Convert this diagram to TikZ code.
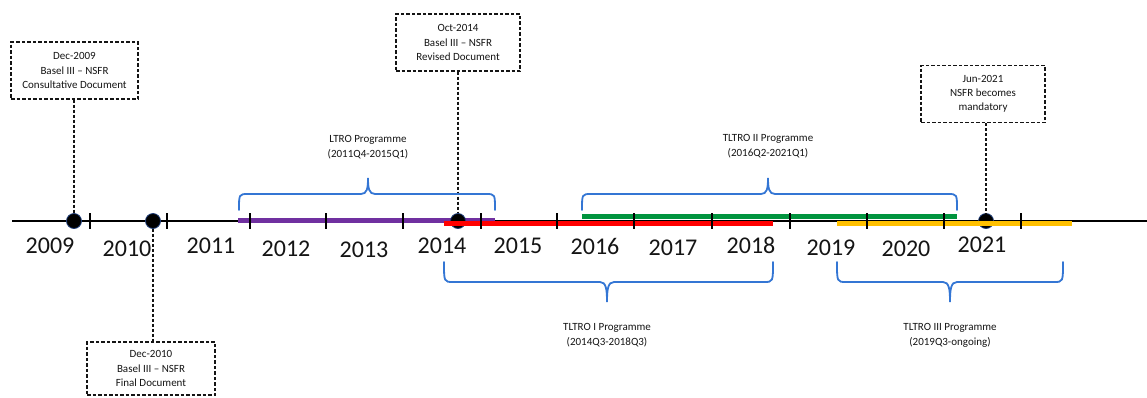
\documentclass[tikz,border=0pt]{standalone}
\usepackage{fontspec}
\setmainfont{Carlito}
\definecolor{bracecol}{RGB}{52,118,212}
\definecolor{barpurple}{RGB}{112,48,160}
\definecolor{barred}{RGB}{255,0,0}
\definecolor{bargreen}{RGB}{0,148,62}
\definecolor{barorange}{RGB}{255,192,0}
\definecolor{dotedge}{RGB}{30,60,120}
\definecolor{txt}{RGB}{20,20,20}
\newcommand\tlbrace[6]{%
  \draw[brace] (#1,#4) .. controls (#1,#5) and (#1,#5) .. ({#1+9},#5)
    -- ({#3-7},#5) .. controls ({#3-1},#5) and (#3,{#5+0.35*(#6-#5)}) .. (#3,#6)
    .. controls (#3,{#5+0.35*(#6-#5)}) and ({#3+1},#5) .. ({#3+7},#5)
    -- ({#2-9},#5) .. controls (#2,#5) and (#2,#5) .. (#2,#4);}
\begin{document}
\begin{tikzpicture}[x=1pt,y=-1pt,
  box/.style={draw=txt, dash pattern=on 3.5pt off 2pt, line width=1.1pt,
    align=center, font=\fontsize{11}{14.3}\selectfont, text=txt, inner sep=0pt},
  conn/.style={draw=txt, dash pattern=on 3pt off 2pt, line width=1.1pt},
  year/.style={font=\fontsize{24}{24}\selectfont, text=txt, inner sep=0pt},
  prog/.style={align=center, font=\fontsize{11}{15}\selectfont, text=txt, inner sep=0pt},
  dot/.style={circle, fill=black, draw=dotedge, line width=0.8pt, minimum size=15pt, inner sep=0pt},
  bar/.style={line width=5pt},
  tick/.style={line width=1.6pt, draw=black},
  brace/.style={draw=bracecol, line width=1.8pt, line cap=round}]
\useasboundingbox (0,0) rectangle (1147,397);
% axis
\coordinate (axL) at (12,221);
\coordinate (axR) at (1147,221);
\draw[line width=2pt] (axL) -- (axR);
% bars behind dots
\draw[bar, barpurple] (238,220) -- (495,220);
\draw[bar, bargreen] (582,216.7) -- (957,216.7);
% dots
\node[dot] (d2009) at (74,221) {};
\node[dot] (d2010) at (153,221) {};
\node[dot] (d2014) at (458,221) {};
\node[dot] (d2021) at (986,221) {};
% bars in front
\draw[bar, barred, line width=5.5pt] (444,223.5) -- (773,223.5);
\draw[bar, barorange] (837,223) -- (1072,223);
% ticks
\foreach \t in {90,167,250,326,403,481,557,634,712,790,867,944,1021}
  \draw[tick] (\t,213) -- (\t,229);
% years
\node[year] (y2009) at (50,246) {2009};
\node[year] (y2010) at (127,249) {2010};
\node[year] (y2011) at (211,246) {2011};
\node[year] (y2012) at (286,249) {2012};
\node[year] (y2013) at (364,250) {2013};
\node[year] (y2014) at (442,246) {2014};
\node[year] (y2015) at (518,246) {2015};
\node[year] (y2016) at (595,246) {2016};
\node[year] (y2017) at (673,248) {2017};
\node[year] (y2018) at (751,245) {2018};
\node[year] (y2019) at (831,248) {2019};
\node[year] (y2020) at (906,249) {2020};
\node[year] (y2021) at (982,245) {2021};
% event boxes
\node[box, minimum width=127pt, minimum height=57pt] (b2009) at (74.5,70.5)
  {Dec-2009\\Basel III -- NSFR\\Consultative Document};
\node[box, minimum width=124pt, minimum height=57pt] (b2014) at (458,42.5)
  {Oct-2014\\Basel III -- NSFR\\Revised Document};
\node[box, minimum width=124pt, minimum height=57pt] (b2021) at (983,94)
  {Jun-2021\\NSFR becomes\\mandatory};
\node[box, minimum width=128pt, minimum height=53pt] (b2010) at (151,368.5)
  {Dec-2010\\Basel III -- NSFR\\Final Document};
% dashed connectors
\draw[conn] (d2009 |- b2009.south) -- (d2009.north);
\draw[conn] (d2014 |- b2014.south) -- (d2014.north);
\draw[conn] (d2021 |- b2021.south) -- (d2021.north);
\draw[conn] (d2010.south) -- (d2010 |- b2010.north);
% braces
\tlbrace{239}{495}{368}{210}{194}{178}
\tlbrace{582}{957}{768}{210}{194}{178}
\tlbrace{444}{773}{607}{262}{282}{302}
\tlbrace{837}{1063}{950}{262}{282}{302}
% programme labels
\node[prog] (pLTRO) at (368,147.5) {LTRO Programme\\(2011Q4-2015Q1)};
\node[prog] (pT2) at (768,146.5) {TLTRO II Programme\\(2016Q2-2021Q1)};
\node[prog] (pT1) at (607,335) {TLTRO I Programme\\(2014Q3-2018Q3)};
\node[prog] (pT3) at (950,335) {TLTRO III Programme\\(2019Q3-ongoing)};
\end{tikzpicture}
\end{document}
